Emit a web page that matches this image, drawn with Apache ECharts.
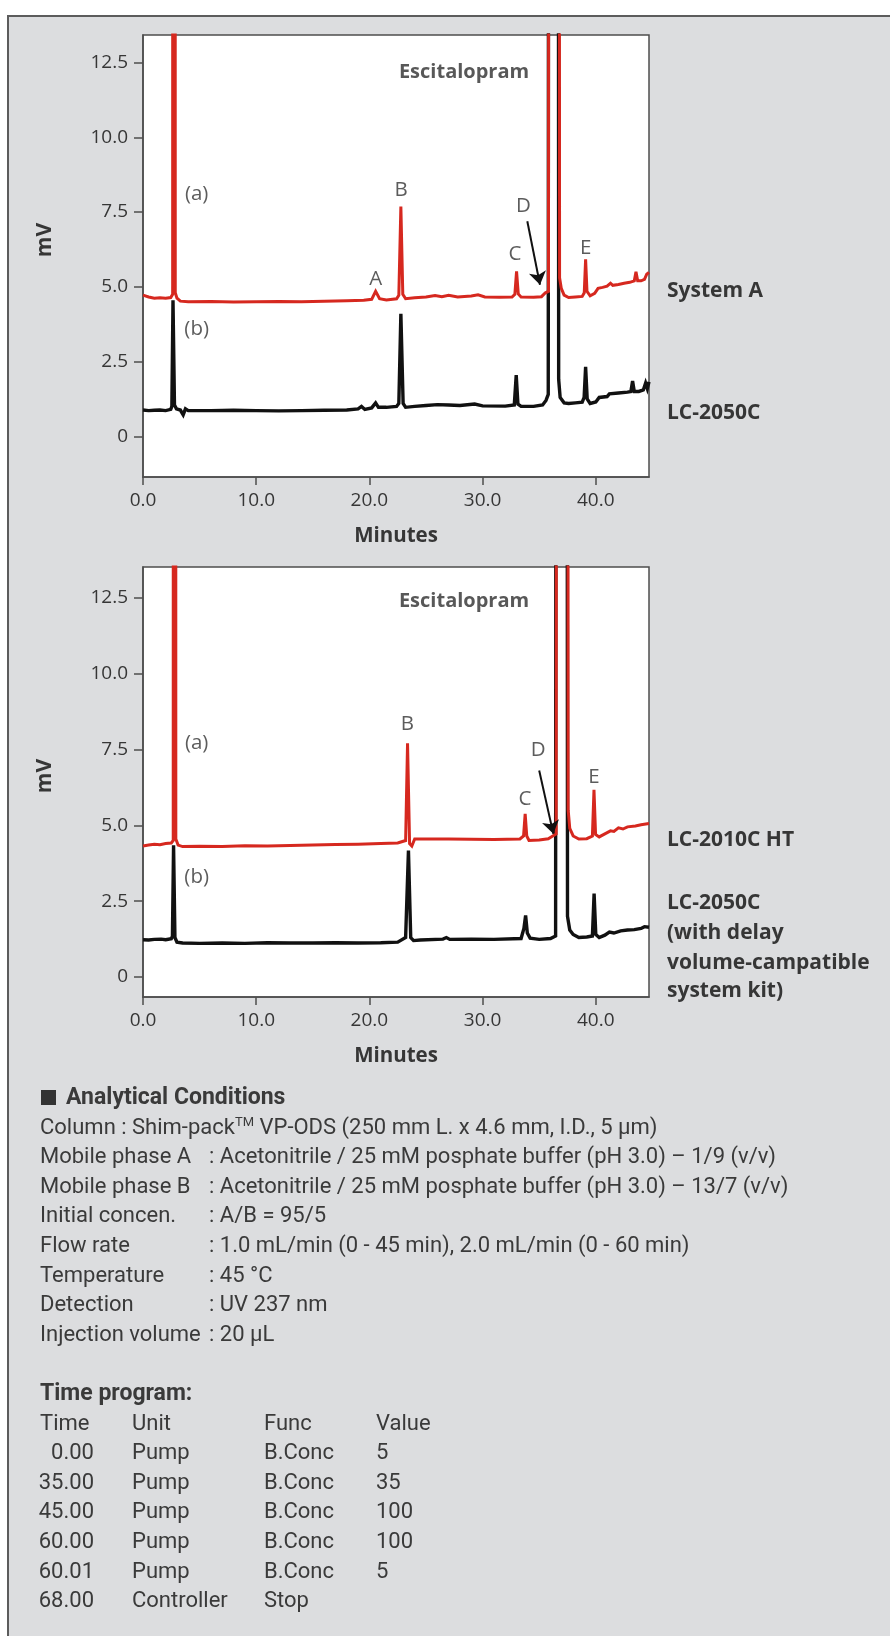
<!DOCTYPE html>
<html>
<head>
<meta charset="utf-8">
<script src="https://cdn.jsdelivr.net/npm/echarts@6/dist/echarts.min.js"></script>
<style>
  html, body { margin: 0; padding: 0; background: #fff; }
  body { width: 890px; height: 1636px; position: relative; overflow: hidden; }
  .frame {
    position: absolute; left: 7px; top: 15px; width: 900px; height: 1640px;
    background: #dcdddf; border-left: 2px solid #5c5c5c; border-top: 2px solid #5c5c5c;
  }
  #chart { position: absolute; left: 0; top: 0; width: 890px; height: 1075px; }
  .cond {
    position: absolute; left: 40px; top: 1082px; width: 840px;
    font-family: Roboto, 'Liberation Sans', sans-serif; font-size: 22px; color: #3a3a3a;
  }
  .line { position: relative; height: 29.6px; line-height: 29.6px; white-space: nowrap; }
  .line span { position: absolute; top: 0; }
  .bold { font-weight: bold; font-size: 23px; }
  .square { display: inline-block; width: 15px; height: 15px; background: #333; top: 8px !important; }
  sup { font-size: 13px; line-height: 0; }
</style>
</head>
<body>
<div class="frame"></div>
<div id="chart"></div>
<div class="cond">
  <div class="line bold"><span class="square" style="left:1px"></span><span style="left:26px">Analytical Conditions</span></div>
  <div class="line">Column : Shim-pack<sup>TM</sup> VP-ODS (250 mm L. x 4.6 mm, I.D., 5 µm)</div>
  <div class="line"><span style="left:0">Mobile phase A</span><span style="left:169px">: Acetonitrile / 25 mM posphate buffer (pH 3.0) – 1/9 (v/v)</span></div>
  <div class="line"><span style="left:0">Mobile phase B</span><span style="left:169px">: Acetonitrile / 25 mM posphate buffer (pH 3.0) – 13/7 (v/v)</span></div>
  <div class="line"><span style="left:0">Initial concen.</span><span style="left:169px">: A/B = 95/5</span></div>
  <div class="line"><span style="left:0">Flow rate</span><span style="left:169px">: 1.0 mL/min (0 - 45 min), 2.0 mL/min (0 - 60 min)</span></div>
  <div class="line"><span style="left:0">Temperature</span><span style="left:169px">: 45 °C</span></div>
  <div class="line"><span style="left:0">Detection</span><span style="left:169px">: UV 237 nm</span></div>
  <div class="line"><span style="left:0">Injection volume</span><span style="left:169px">: 20 µL</span></div>
  <div class="line"></div>
  <div class="line bold">Time program:</div>
  <div id="program"></div>
</div>
<script>
// ---- data ----
const timeTicks = [0, 10, 20, 30, 40];
const mvTicks = [0, 2.5, 5, 7.5, 10, 12.5];

// upper chart, trace (a): System A  [minutes, mV]
const systemATrace = [
  [0, 4.72], [0.5, 4.66], [1.0, 4.62], [1.5, 4.63], [2.0, 4.62], [2.45, 4.64], [2.62, 4.75],
  [2.72, 380], [2.85, 4.8], [3.0, 4.62], [3.3, 4.52], [4.0, 4.5], [6.0, 4.51], [8.0, 4.49],
  [10.0, 4.5], [12.0, 4.51], [14.0, 4.5], [16.0, 4.52], [18.0, 4.53], [19.5, 4.55], [20.2, 4.58],
  [20.55, 4.85], [20.9, 4.6], [21.5, 4.56], [22.4, 4.6], [22.6, 4.72], [22.78, 7.68], [22.95, 4.75],
  [23.2, 4.6], [24.0, 4.63], [25.0, 4.66], [25.8, 4.71], [26.4, 4.67], [27.0, 4.72], [27.8, 4.66],
  [29.0, 4.69], [29.6, 4.73], [30.2, 4.66], [31.5, 4.65], [32.6, 4.66], [32.85, 4.75], [33.0, 5.52],
  [33.15, 4.76], [33.4, 4.66], [34.5, 4.65], [35.2, 4.67], [35.55, 4.8], [35.82, 4.85],
  [36.3, 380], [36.8, 5.3], [36.95, 4.95], [37.2, 4.72], [37.6, 4.64], [38.2, 4.66], [38.8, 4.68],
  [38.98, 4.8], [39.1, 5.92], [39.22, 4.85], [39.5, 4.7], [39.9, 4.78], [40.2, 4.95], [40.6, 4.98],
  [41.0, 5.02], [41.3, 5.12], [41.5, 5.05], [42.0, 5.08], [42.5, 5.12], [43.0, 5.15], [43.4, 5.2],
  [43.55, 5.5], [43.7, 5.2], [44.0, 5.2], [44.3, 5.25], [44.5, 5.42], [44.7, 5.48]
];
// upper chart, trace (b): LC-2050C
const lc2050Trace = [
  [0, 0.88], [0.5, 0.86], [1.0, 0.87], [1.5, 0.88], [2.0, 0.86], [2.45, 0.9], [2.55, 1.0],
  [2.65, 4.55], [2.78, 1.05], [2.95, 0.92], [3.3, 0.88], [3.55, 0.72], [3.75, 0.92], [4.0, 0.86],
  [6.0, 0.86], [8.0, 0.87], [10.0, 0.86], [12.0, 0.85], [14.0, 0.86], [16.0, 0.87], [18.0, 0.88],
  [19.0, 0.92], [19.3, 1.0], [19.6, 0.9], [20.2, 0.95], [20.55, 1.12], [20.8, 0.97], [21.5, 0.97],
  [22.4, 1.0], [22.6, 1.1], [22.78, 4.1], [22.98, 1.1], [23.2, 0.97], [24.0, 1.0], [25.0, 1.03],
  [26.0, 1.06], [27.0, 1.05], [28.0, 1.03], [29.3, 1.08], [30.0, 1.02], [32.0, 1.01], [32.8, 1.05],
  [32.97, 2.05], [33.12, 1.08], [33.4, 1.0], [34.5, 1.0], [35.3, 1.05], [35.6, 1.2], [35.8, 1.4],
  [36.25, 380], [36.72, 1.9], [36.85, 1.3], [37.2, 1.12], [37.6, 1.1], [38.2, 1.12], [38.8, 1.14],
  [38.97, 1.3], [39.1, 2.32], [39.24, 1.25], [39.5, 1.1], [40.0, 1.15], [40.3, 1.3], [41.0, 1.33],
  [41.2, 1.42], [42.0, 1.45], [42.8, 1.48], [43.1, 1.5], [43.25, 1.85], [43.4, 1.5], [43.8, 1.5],
  [44.2, 1.55], [44.4, 1.78], [44.55, 1.6], [44.7, 1.82]
];
// lower chart, trace (a): LC-2010C HT
const lc2010Trace = [
  [0, 4.32], [0.5, 4.35], [1.0, 4.38], [1.5, 4.36], [2.0, 4.4], [2.5, 4.42], [2.67, 4.5],
  [2.77, 380], [2.9, 4.55], [3.1, 4.35], [3.5, 4.3], [5, 4.31], [7, 4.3], [9, 4.33], [11, 4.32],
  [13, 4.34], [15, 4.35], [17, 4.37], [19, 4.38], [21, 4.4], [22.5, 4.42], [23.2, 4.5],
  [23.37, 7.71], [23.55, 4.4], [23.75, 4.32], [24.0, 4.55], [25, 4.55], [27, 4.55], [29, 4.54],
  [31, 4.53], [33.3, 4.55], [33.62, 4.65], [33.76, 5.38], [33.9, 4.65], [34.1, 4.5], [35.0, 4.52],
  [35.8, 4.56], [36.2, 4.65], [36.5, 4.72], [37.02, 380], [37.56, 5.5], [37.7, 4.9], [38.0, 4.65],
  [38.5, 4.55], [39.2, 4.56], [39.7, 4.65], [39.84, 6.17], [39.98, 4.7], [40.3, 4.62], [40.8, 4.72],
  [41.3, 4.82], [41.6, 4.8], [42.0, 4.92], [42.4, 4.88], [42.8, 4.95], [43.5, 4.98], [44.0, 5.02],
  [44.7, 5.06]
];
// lower chart, trace (b): LC-2050C with delay volume kit
const lc2050KitTrace = [
  [0, 1.23], [0.5, 1.22], [1.0, 1.24], [1.6, 1.25], [2.0, 1.23], [2.5, 1.26], [2.6, 1.35],
  [2.7, 4.34], [2.82, 1.3], [3.0, 1.15], [3.5, 1.12], [5, 1.11], [7, 1.12], [9, 1.11], [11, 1.13],
  [13, 1.12], [15, 1.12], [17, 1.13], [19, 1.12], [21, 1.13], [22.5, 1.15], [23.2, 1.3],
  [23.45, 4.17], [23.65, 1.3], [23.9, 1.2], [24.5, 1.22], [26.5, 1.25], [26.8, 1.3], [27.1, 1.24],
  [29, 1.25], [31, 1.24], [33.4, 1.27], [33.65, 1.6], [33.8, 2.03], [33.95, 1.45], [34.2, 1.28],
  [35.0, 1.24], [36.0, 1.27], [36.45, 1.35], [36.95, 380], [37.5, 2.0], [37.7, 1.55], [38.0, 1.4],
  [38.5, 1.3], [39.2, 1.32], [39.7, 1.35], [39.85, 2.75], [40.0, 1.4], [40.3, 1.3], [40.8, 1.38],
  [41.2, 1.48], [41.6, 1.45], [42.2, 1.52], [42.8, 1.55], [43.4, 1.56], [44.0, 1.6], [44.3, 1.66],
  [44.7, 1.64]
];

// peak annotations [text, minutes, mV]
const upperNotes = [
  ['(a)', 4.74, 8.1], ['(b)', 4.74, 3.6], ['A', 20.55, 5.24], ['B', 22.8, 8.22],
  ['C', 32.86, 6.08], ['D', 33.6, 7.69], ['E', 39.1, 6.3]
];
const lowerNotes = [
  ['(a)', 4.74, 7.71], ['(b)', 4.74, 3.3], ['B', 23.35, 8.35],
  ['C', 33.75, 5.88], ['D', 34.9, 7.47], ['E', 39.84, 6.59]
];
const upperTitle = ['Escitalopram', 28.36, 12.18];
const lowerTitle = ['Escitalopram', 28.36, 12.39];
const upperArrow = [[33.95, 7.19], [35.07, 5.07]];
const lowerArrow = [[35.0, 6.81], [36.25, 4.72]];

// time program table
const programHead = ['Time', 'Unit', 'Func', 'Value'];
const programRows = [
  ['0.00', 'Pump', 'B.Conc', '5'],
  ['35.00', 'Pump', 'B.Conc', '35'],
  ['45.00', 'Pump', 'B.Conc', '100'],
  ['60.00', 'Pump', 'B.Conc', '100'],
  ['60.01', 'Pump', 'B.Conc', '5'],
  ['68.00', 'Controller', 'Stop', '']
];

// ---- table ----
const prog = document.getElementById('program');
function addRow(cells, head) {
  const div = document.createElement('div');
  div.className = 'line';
  const lefts = [0, 92, 224, 336];
  cells.forEach((c, i) => {
    const s = document.createElement('span');
    s.textContent = c;
    if (i === 0 && !head) { s.style.right = (840 - 54) + 'px'; } else { s.style.left = lefts[i] + 'px'; }
    div.appendChild(s);
  });
  prog.appendChild(div);
}
addRow(programHead, true);
programRows.forEach(r => addRow(r, false));

// ---- chart ----
const font = "'Open Sans', 'Noto Sans', sans-serif";
const textColor = '#363636';
const frameColor = '#4d4d4d';
const red = '#d6281f';
const black = '#111111';

function gridOf(top, height) {
  return {
    left: 143, top: top, width: 506, height: height, show: true,
    backgroundColor: '#ffffff', borderColor: frameColor, borderWidth: 1.5
  };
}
function xAxisOf(i) {
  return {
    type: 'value', gridIndex: i, min: 0, max: 44.7,
    axisLine: { show: true, onZero: false, lineStyle: { color: frameColor, width: 1.5 } },
    axisTick: { show: true, length: 8, customValues: timeTicks, lineStyle: { color: frameColor, width: 1.5 } },
    axisLabel: {
      customValues: timeTicks, formatter: v => v.toFixed(1), margin: 14,
      fontSize: 19, color: textColor, fontFamily: font
    },
    splitLine: { show: false },
    name: 'Minutes', nameLocation: 'middle', nameGap: 49,
    nameTextStyle: { fontSize: 20.5, fontWeight: 'bold', color: textColor, fontFamily: font }
  };
}
function yAxisOf(i, min, max) {
  return {
    type: 'value', gridIndex: i, min: min, max: max,
    axisLine: { show: true, onZero: false, lineStyle: { color: frameColor, width: 1.5 } },
    axisTick: { show: true, length: 9, customValues: mvTicks, lineStyle: { color: frameColor, width: 1.5 } },
    axisLabel: {
      customValues: mvTicks, formatter: v => (v === 0 ? '0' : v.toFixed(1)), margin: 15,
      fontSize: 19, color: textColor, fontFamily: font
    },
    splitLine: { show: false }
  };
}
function traceOf(i, data, color, width, z) {
  return {
    type: 'line', xAxisIndex: i, yAxisIndex: i, data: data, showSymbol: false, symbol: 'none',
    lineStyle: { color: color, width: width, join: 'miter', miterLimit: 4 }, z: z, clip: true,
    silent: true
  };
}
function notesOf(i, notes, title) {
  const data = notes.map(n => ({ name: n[0], value: [n[1], n[2]] }));
  data.push({
    name: title[0], value: [title[1], title[2]],
    label: { fontWeight: 'bold', fontSize: 20, color: '#2e2e2e' }
  });
  return {
    type: 'scatter', xAxisIndex: i, yAxisIndex: i, data: data, symbolSize: 1,
    itemStyle: { color: 'rgba(0,0,0,0)' }, silent: true, z: 5,
    label: {
      show: true, position: 'inside', formatter: '{b}', fontSize: 20.5,
      color: '#333333', fontFamily: font
    }
  };
}
function arrowOf(i, coords) {
  return {
    type: 'lines', coordinateSystem: 'cartesian2d', xAxisIndex: i, yAxisIndex: i,
    data: [{ coords: coords }], symbol: ['none', 'arrow'], symbolSize: 13,
    lineStyle: { color: '#111', width: 2, opacity: 1 }, z: 6, silent: true
  };
}
function sideText(x, y, text) {
  return {
    type: 'text', x: x, y: y, silent: true,
    style: {
      text: text, fill: textColor, font: 'bold 21px ' + font,
      textAlign: 'left', textVerticalAlign: 'middle'
    }
  };
}
function axisTitle(y) {
  return {
    type: 'text', x: 45, y: y, rotation: Math.PI / 2, silent: true,
    style: {
      text: 'mV', fill: textColor, font: 'bold 21px ' + font,
      textAlign: 'center', textVerticalAlign: 'middle'
    }
  };
}

const chart = echarts.init(document.getElementById('chart'), null, { renderer: 'canvas' });
chart.setOption({
  animation: false,
  backgroundColor: 'transparent',
  grid: [gridOf(35, 442), gridOf(567, 430)],
  xAxis: [xAxisOf(0), xAxisOf(1)],
  yAxis: [yAxisOf(0, -1.36, 13.42), yAxisOf(1, -0.66, 13.52)],
  series: [
    traceOf(0, lc2050Trace, black, 3.4, 2),
    traceOf(0, systemATrace, red, 3, 3),
    traceOf(1, lc2050KitTrace, black, 3.4, 2),
    traceOf(1, lc2010Trace, red, 3, 3),
    notesOf(0, upperNotes, upperTitle),
    notesOf(1, lowerNotes, lowerTitle),
    arrowOf(0, upperArrow),
    arrowOf(1, lowerArrow)
  ],
  graphic: [
    axisTitle(240),
    axisTitle(776),
    sideText(667, 291, 'System A'),
    sideText(667, 413, 'LC-2050C'),
    sideText(667, 840, 'LC-2010C HT'),
    sideText(667, 903, 'LC-2050C'),
    sideText(667, 933, '(with delay'),
    sideText(667, 963, 'volume-campatible'),
    sideText(667, 991, 'system kit)')
  ]
});
</script>
</body>
</html>
